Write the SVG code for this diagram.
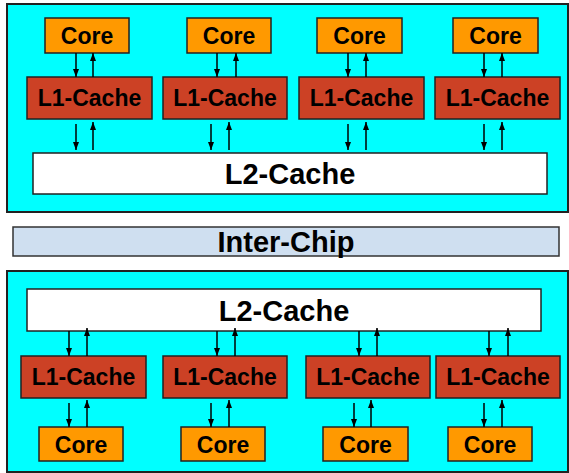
<svg xmlns="http://www.w3.org/2000/svg" width="569" height="473" viewBox="0 0 569 473">
<defs>
<marker id="ah" viewBox="0 0 6 8" refX="6" refY="3" markerWidth="6" markerHeight="8" markerUnits="userSpaceOnUse" orient="auto" >
<path d="M0,0 L8,3 L0,6 Z" fill="#000"/>
</marker>
<marker id="a" viewBox="0 0 8 6" refX="8" refY="3" markerWidth="8" markerHeight="6" markerUnits="userSpaceOnUse" orient="auto">
<path d="M0,0 L8,3 L0,6 Z" fill="#000"/>
</marker>
</defs>
<style>
.chip{fill:#00FFFF;stroke:#222;stroke-width:2}
.core{fill:#FF9900;stroke:#222;stroke-width:1.5}
.l1{fill:#CC4125;stroke:#222;stroke-width:1.5}
.l2{fill:#FFFFFF;stroke:#222;stroke-width:1.5}
.ic{fill:#CFDFF0;stroke:#333;stroke-width:1.5}
text{font-family:"Liberation Sans",Arial,sans-serif;font-weight:bold;fill:#000;text-anchor:middle}
.s{font-size:23px}
.b{font-size:29px}
#connectors line{stroke:#000;stroke-width:1.5;marker-end:url(#a)}
</style>
<rect x="0" y="0" width="569" height="473" fill="#fff"/>
<g id="chip-top"><rect class="chip" x="7" y="4" width="561" height="208"/></g>
<g id="chip-bottom"><rect class="chip" x="7" y="271" width="561" height="201"/></g>
<g id="intercon"><rect class="ic" x="13" y="227" width="546" height="29"/><text class="b" x="286" y="252">Inter-Chip</text></g>

<g id="core-t1"><rect class="core" x="45" y="18" width="84" height="35"/><text class="s" x="87" y="44">Core</text></g>
<g id="core-t2"><rect class="core" x="187" y="18" width="84" height="35"/><text class="s" x="229" y="44">Core</text></g>
<g id="core-t3"><rect class="core" x="317" y="18" width="85" height="35"/><text class="s" x="359.5" y="44">Core</text></g>
<g id="core-t4"><rect class="core" x="453" y="18" width="85" height="35"/><text class="s" x="495.5" y="44">Core</text></g>

<g id="l1-t1"><rect class="l1" x="27" y="77" width="125" height="42"/><text class="s" x="89.5" y="106">L1-Cache</text></g>
<g id="l1-t2"><rect class="l1" x="163" y="77" width="124" height="42"/><text class="s" x="225" y="106">L1-Cache</text></g>
<g id="l1-t3"><rect class="l1" x="299" y="77" width="125" height="42"/><text class="s" x="361.5" y="106">L1-Cache</text></g>
<g id="l1-t4"><rect class="l1" x="435" y="77" width="125" height="42"/><text class="s" x="497.5" y="106">L1-Cache</text></g>

<g id="l2-top"><rect class="l2" x="33" y="153" width="514" height="41"/><text class="b" x="290" y="184">L2-Cache</text></g>

<g id="l2-bottom"><rect class="l2" x="27" y="289" width="514" height="42"/><text class="b" x="284" y="321">L2-Cache</text></g>

<g id="l1-b1"><rect class="l1" x="21" y="356" width="125" height="42"/><text class="s" x="83.5" y="385">L1-Cache</text></g>
<g id="l1-b2"><rect class="l1" x="163" y="356" width="124" height="42"/><text class="s" x="225" y="385">L1-Cache</text></g>
<g id="l1-b3"><rect class="l1" x="306" y="356" width="124" height="42"/><text class="s" x="368" y="385">L1-Cache</text></g>
<g id="l1-b4"><rect class="l1" x="436" y="356" width="124" height="42"/><text class="s" x="498" y="385">L1-Cache</text></g>

<g id="core-b1"><rect class="core" x="39" y="427" width="84" height="34"/><text class="s" x="81" y="453">Core</text></g>
<g id="core-b2"><rect class="core" x="181" y="427" width="84" height="34"/><text class="s" x="223" y="453">Core</text></g>
<g id="core-b3"><rect class="core" x="323" y="427" width="85" height="34"/><text class="s" x="365.5" y="453">Core</text></g>
<g id="core-b4"><rect class="core" x="448" y="427" width="84" height="34"/><text class="s" x="490" y="453">Core</text></g>

<g id="connectors">
<line x1="76" y1="53" x2="76" y2="77"/><line x1="93" y1="77" x2="93" y2="53"/>
<line x1="217" y1="53" x2="217" y2="77"/><line x1="236" y1="77" x2="236" y2="53"/>
<line x1="348" y1="53" x2="348" y2="77"/><line x1="366" y1="77" x2="366" y2="53"/>
<line x1="484" y1="53" x2="484" y2="77"/><line x1="502" y1="77" x2="502" y2="53"/>

<line x1="76" y1="124" x2="76" y2="150"/><line x1="93" y1="150" x2="93" y2="122"/>
<line x1="211" y1="124" x2="211" y2="150"/><line x1="229" y1="150" x2="229" y2="122"/>
<line x1="348" y1="124" x2="348" y2="150"/><line x1="366" y1="150" x2="366" y2="122"/>
<line x1="484" y1="124" x2="484" y2="150"/><line x1="502" y1="150" x2="502" y2="122"/>

<line x1="69" y1="331" x2="69" y2="356"/><line x1="87" y1="356" x2="87" y2="328"/>
<line x1="217" y1="331" x2="217" y2="356"/><line x1="235" y1="356" x2="235" y2="328"/>
<line x1="359" y1="331" x2="359" y2="356"/><line x1="377" y1="356" x2="377" y2="328"/>
<line x1="489" y1="331" x2="489" y2="356"/><line x1="508" y1="356" x2="508" y2="328"/>

<line x1="69" y1="403" x2="69" y2="427"/><line x1="87" y1="427" x2="87" y2="400"/>
<line x1="211" y1="403" x2="211" y2="427"/><line x1="229" y1="427" x2="229" y2="400"/>
<line x1="354" y1="403" x2="354" y2="427"/><line x1="371" y1="427" x2="371" y2="400"/>
<line x1="484" y1="403" x2="484" y2="427"/><line x1="502" y1="427" x2="502" y2="400"/>
</g>
</svg>
